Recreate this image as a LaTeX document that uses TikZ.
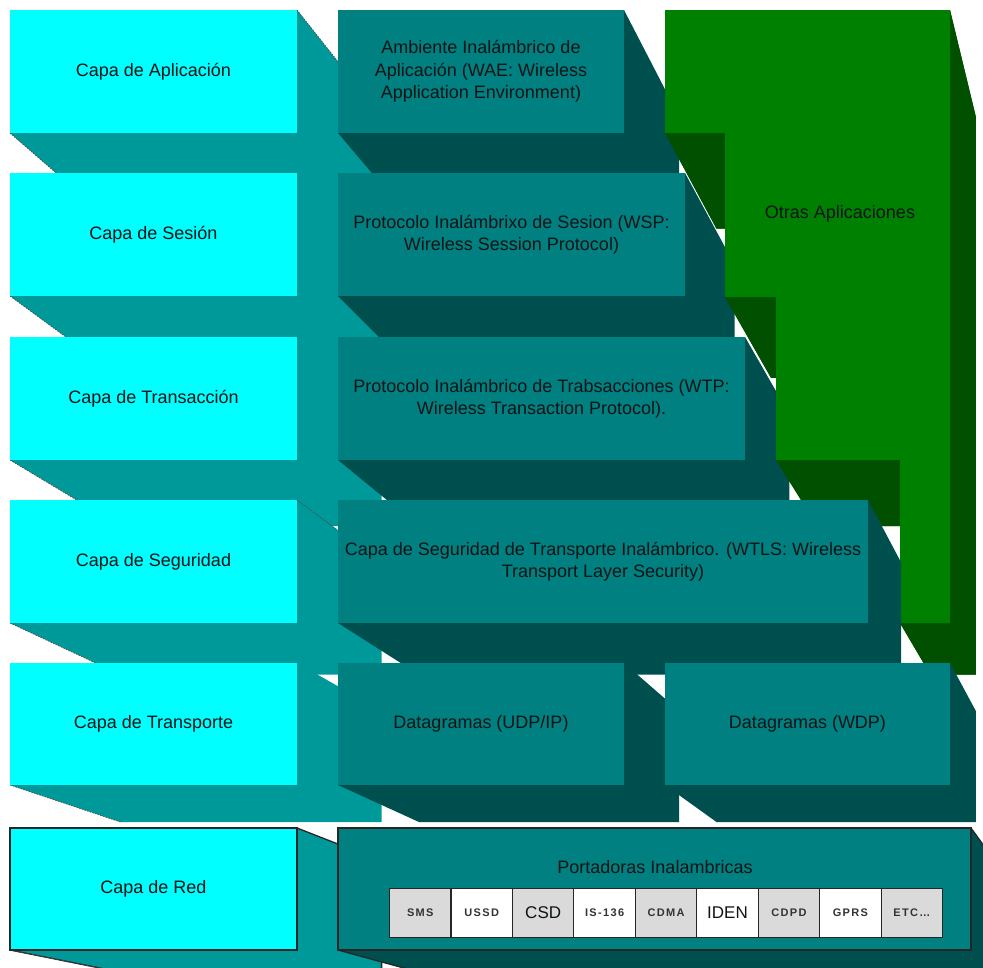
\documentclass[tikz,border=0pt]{standalone}
\usepackage{fontspec}
\setmainfont{Liberation Sans}
\usetikzlibrary{calc}

\definecolor{cyface}{HTML}{00FFFF}
\definecolor{cyside}{HTML}{009999}
\definecolor{tlface}{HTML}{008080}
\definecolor{tlside}{HTML}{004F4F}
\definecolor{grface}{HTML}{008000}
\definecolor{grside}{HTML}{005000}
\definecolor{chipgrey}{HTML}{DADADA}
\definecolor{ink}{HTML}{0E1416}

% depth of the perspective extrusion (fraction of the way to the vanishing point)
\def\depthk{0.09}

\tikzset{
  cy side/.style={fill=cyside},
  cy face/.style={fill=cyface},
  cy edge/.style={draw=black!70, line width=0.7pt, dash pattern=on 1.6pt off 1.2pt},
  tl side/.style={fill=tlside},
  tl face/.style={fill=tlface},
  tl edge/.style={},
  outl/.style={draw=black!85, line width=1.3pt},
  txt/.style={text=ink, align=center, inner sep=0pt,
    font=\fontsize{18}{22.5}\selectfont},
  chip/.style={draw=black!85, line width=1.1pt, anchor=north west,
    minimum width=61.45pt, minimum height=49pt, inner sep=0pt},
  chipsm/.style={text=black!80,
    font=\fontsize{11}{13}\selectfont\bfseries\addfontfeature{LetterSpace=12}},
  chipbig/.style={text=ink, font=\fontsize{17}{20}\selectfont},
}

% extruded slab: name, x1, y1, x2, y2, colour family, extra options, text
\newcommand\slab[8]{%
  \path[#6 side,#7] (#2,#3) -- (#4,#3) -- ($(#4,#3)!\depthk!(vp)$)
     -- ($(#4,#5)!\depthk!(vp)$) -- ($(#2,#5)!\depthk!(vp)$) -- (#2,#5) -- cycle;
  \path[#6 edge] (#2,#5) -- ($(#2,#5)!\depthk!(vp)$);
  \path[#6 face,#7] (#2,#3) rectangle (#4,#5);
  \node[txt] (#1) at ($(#2,#3)!0.5!(#4,#5)$) {#8};
}

\begin{document}
\begin{tikzpicture}[x=1pt, y=-1pt]
  \useasboundingbox (0,0) rectangle (983,967);
  \clip (0,0) rectangle (983,967);
  \fill[white] (0,0) rectangle (983,967);
  \coordinate (vp) at (1237,1196);

  % Application layer
  \slab{aplic}{10}{10}{297}{133}{cy}{}{Capa de Aplicación}
  \draw[cy edge] (297,10) -- ($(297,10)!\depthk!(vp)$);
  \slab{wae}{338}{10}{624}{133}{tl}{}{Ambiente Inalámbrico de\\Aplicación (WAE: Wireless\\Application Environment)}

  % Session layer
  \slab{sesion}{10}{173}{297}{296}{cy}{}{Capa de Sesión}
  \slab{wsp}{338}{173}{685}{296}{tl}{}{Protocolo Inalámbrixo de Sesion (WSP:\\Wireless Session Protocol)}

  % Transaction layer
  \slab{transac}{10}{337}{297}{460}{cy}{}{Capa de Transacción}
  \slab{wtp}{338}{337}{745}{460}{tl}{}{Protocolo Inalámbrico de Trabsacciones (WTP:\\Wireless Transaction Protocol).}

  % Other applications: stepped green block
  \coordinate (g1) at (665,10);
  \coordinate (g2) at (950,10);
  \coordinate (g3) at (950,623);
  \coordinate (g4) at (900,623);
  \coordinate (g5) at (900,460);
  \coordinate (g6) at (776,460);
  \coordinate (g7) at (776,297);
  \coordinate (g8) at (725,297);
  \coordinate (g9) at (725,133);
  \coordinate (g10) at (665,133);
  \foreach \i in {1,...,10} \coordinate (gb\i) at ($(g\i)!\depthk!(vp)$);
  \foreach \a/\b in {1/2,2/3,3/4,4/5,5/6,6/7,7/8,8/9,9/10,10/1}
    \fill[grside] (g\a) -- (g\b) -- (gb\b) -- (gb\a) -- cycle;
  \fill[grside] (gb1) -- (gb2) -- (gb3) -- (gb4) -- (gb5) -- (gb6) -- (gb7)
    -- (gb8) -- (gb9) -- (gb10) -- cycle;
  \fill[grface] (g1) -- (g2) -- (g3) -- (g4) -- (g5) -- (g6) -- (g7)
    -- (g8) -- (g9) -- (g10) -- cycle;
  \node[txt] (otras) at (840,214) {Otras Aplicaciones};

  % Security layer
  \slab{segur}{10}{500}{297}{623}{cy}{}{Capa de Seguridad}
  \draw[cy edge] (297,500) -- ($(297,500)!\depthk!(vp)$);
  \slab{wtls}{338}{500}{868}{623}{tl}{}{Capa de Seguridad de Transporte Inalámbrico. (WTLS: Wireless\\Transport Layer Security)}

  % Transport layer
  \slab{transp}{10}{663}{297}{785}{cy}{}{Capa de Transporte}
  \slab{udp}{338}{663}{624}{785}{tl}{}{Datagramas (UDP/IP)}
  \slab{wdp}{665}{663}{950}{785}{tl}{}{Datagramas (WDP)}

  % Network layer
  \slab{red}{10}{828}{297}{950}{cy}{outl}{Capa de Red}
  \slab{portad}{338}{828}{971}{950}{tl}{outl}{}
  \node[txt] (portadoras) at (655,867) {Portadoras Inalambricas};

  % wireless bearers
  \foreach \lab/\sty/\col [count=\i from 0] in
     {SMS/chipsm/chipgrey, USSD/chipsm/white, CSD/chipbig/chipgrey,
      IS-136/chipsm/white, CDMA/chipsm/chipgrey, IDEN/chipbig/white,
      CDPD/chipsm/chipgrey, GPRS/chipsm/white, {ETC\ldots}/chipsm/chipgrey}
    \node[chip, \sty, fill=\col] (bearer\i) at ({389+61.45*\i},888) {\lab};
\end{tikzpicture}
\end{document}
